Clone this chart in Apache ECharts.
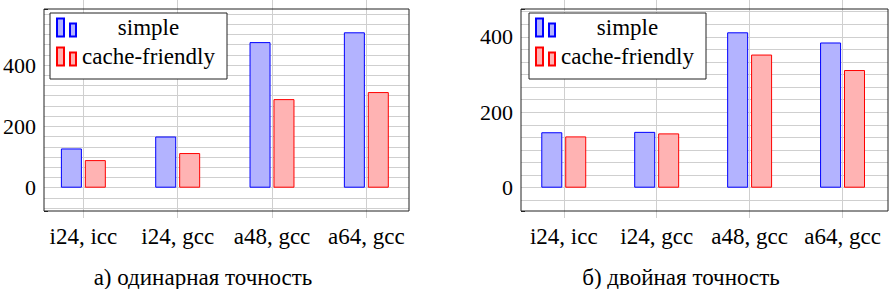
<!DOCTYPE html>
<html>
<head>
<meta charset="utf-8">
<script src="https://cdn.jsdelivr.net/npm/echarts@6/dist/echarts.min.js"></script>
<style>
html,body{margin:0;padding:0;background:#fff;}
#c{width:889px;height:289px;}
.probe{position:absolute;left:-9999px;top:0;font-size:23px;white-space:nowrap;}
</style>
</head>
<body>
<span class="probe" id="p1" style="font-family:'Liberation Serif'">simple cache-friendly i24, icc а) одинарная точность б) двойная 0123456789</span>
<div id="c"></div>
<script>
const categories = ['i24, icc', 'i24, gcc', 'a48, gcc', 'a64, gcc'];
const singleSimple = [128, 167, 475, 507];
const singleCache = [90, 113, 289, 312];
const doubleSimple = [147, 148, 412, 385];
const doubleCache = [136, 144, 353, 312];
const seriesNames = ['simple', 'cache-friendly'];
const majorStep = 200;
const minorDivisions = 6;
const captions = ['а) одинарная точность', 'б) двойная точность'];

const FONT = 'Liberation Serif';
const gridColor = '#cfcfcf';
const frameColor = '#222';
const blueFill = '#b3b3ff', blueLine = '#0000ff';
const redFill = '#ffb3b3', redLine = '#ff0000';
const legendIcon = 'path://M0,0H7V18H0Z M13,5H19V18H13Z';

const panels = [
  { simple: singleSimple, cache: singleCache, frame: {left: 41, top: 9, width: 368, height: 202}, bars: {left: 36.2, width: 377.3}, captionX: 203, legendLeft: 50 },
  { simple: doubleSimple, cache: doubleCache, frame: {left: 521, top: 9, width: 367, height: 202}, bars: {left: 517.3, width: 376}, captionX: 681, legendLeft: 529 }
];

function buildOption() {
  const grid = [], xAxis = [], yAxis = [], series = [], legend = [], graphic = [];
  panels.forEach((p, i) => {
    const dataMax = Math.max(...p.simple, ...p.cache);
    const yMin = -0.15 * dataMax, yMax = 1.15 * dataMax;
    const g0 = grid.length;
    grid.push({ left: p.frame.left, top: p.frame.top, width: p.frame.width, height: p.frame.height,
      show: true, borderColor: frameColor, borderWidth: 1, backgroundColor: 'transparent', z: 3 });
    grid.push({ left: p.bars.left, top: p.frame.top, width: p.bars.width, height: p.frame.height });
    const x0 = xAxis.length;
    xAxis.push({ gridIndex: g0, type: 'value', min: 0, max: 1, show: false });
    xAxis.push({ gridIndex: g0 + 1, type: 'category', data: categories, position: 'bottom',
      axisLine: {show: false},
      axisTick: {show: true, inside: true, length: 211, alignWithLabel: true, lineStyle: {color: gridColor, width: 1}},
      axisLabel: {show: true, margin: 14, color: '#000', fontFamily: FONT, fontSize: 23, interval: 0},
      splitLine: {show: false} });
    xAxis.push({ gridIndex: g0 + 1, type: 'category', data: categories, position: 'top',
      axisLine: {show: false},
      axisTick: {show: true, inside: true, length: 209, alignWithLabel: true, lineStyle: {color: gridColor, width: 1}},
      axisLabel: {show: false}, splitLine: {show: false} });
    const y0 = yAxis.length;
    yAxis.push({ gridIndex: g0, type: 'value', min: yMin, max: yMax, splitNumber: 3,
      axisLine: {show: false},
      axisTick: {show: true, inside: true, length: 4, lineStyle: {color: frameColor}},
      axisLabel: {show: true, margin: 8, color: '#000', fontFamily: FONT, fontSize: 22,
        formatter: v => (Math.abs(v % majorStep) < 1e-6 ? String(Math.round(v)) : '')},
      splitLine: {show: false} });
    yAxis.push({ gridIndex: g0 + 1, type: 'value', min: yMin, max: yMax, show: false, splitLine: {show: false} });

    const step = majorStep / minorDivisions;
    const lines = [];
    for (let k = Math.ceil(yMin / step); k * step <= yMax; k++) lines.push({ yAxis: k * step });
    series.push({ type: 'line', xAxisIndex: x0, yAxisIndex: y0, data: [], silent: true, z: 1,
      markLine: { silent: true, symbol: ['none', 'none'], z: 1, animation: false,
        label: {show: false}, lineStyle: {color: gridColor, type: 'solid', width: 1}, data: lines } });
    series.push({ name: seriesNames[0], type: 'bar', xAxisIndex: x0 + 1, yAxisIndex: y0 + 1, data: p.simple,
      barWidth: 21, barGap: '14%', z: 2,
      itemStyle: {color: blueFill, borderColor: blueLine, borderWidth: 1} });
    series.push({ name: seriesNames[1], type: 'bar', xAxisIndex: x0 + 1, yAxisIndex: y0 + 1, data: p.cache,
      barWidth: 21, barGap: '14%', z: 2,
      itemStyle: {color: redFill, borderColor: redLine, borderWidth: 1} });

    legend.push({ data: seriesNames, left: p.legendLeft, top: 13, orient: 'vertical', selectedMode: false,
      backgroundColor: '#fff', borderColor: frameColor, borderWidth: 1, padding: [3, 11, 11, 6],
      itemGap: 6, itemWidth: 19, itemHeight: 18, icon: legendIcon, z: 10,
      formatter: n => '{c|' + n + '}',
      textStyle: { fontFamily: FONT, fontSize: 23, color: '#000',
        rich: { c: { width: 135, align: 'center', fontFamily: FONT, fontSize: 23, lineHeight: 22 } } } });

    graphic.push({ type: 'text', x: p.captionX, y: 277,
      style: { text: captions[i], fontFamily: FONT, fontSize: 23, fill: '#000', align: 'center', verticalAlign: 'middle' } });
  });
  return { animation: false, textStyle: {fontFamily: FONT}, grid, xAxis, yAxis, series, legend, graphic };
}

void document.getElementById('p1').offsetWidth;
const chart = echarts.init(document.getElementById('c'), null, {renderer: 'svg'});
function render() { chart.setOption(buildOption(), true); }
render();
</script>
</body>
</html>
